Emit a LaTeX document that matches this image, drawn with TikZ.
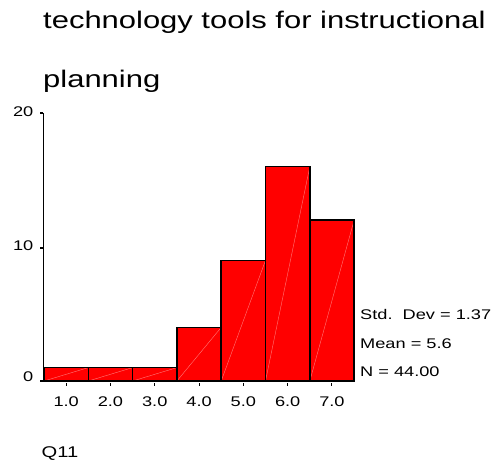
\documentclass[tikz,border=0pt]{standalone}
\usepackage{fontspec}
\setmainfont{Liberation Sans}
\begin{document}
\begin{tikzpicture}[x=1pt,y=-1pt,
  bar/.style={draw=black,line width=1.6pt},
  barfill/.style={fill=red},
  diag/.style={draw={rgb,255:red,255;green,120;blue,120},line width=0.4pt},
  axisline/.style={draw=black,line width=1.3pt},
  small/.style={inner sep=0pt,font=\fontsize{14}{14}\selectfont},
  big/.style={inner sep=0pt,font=\fontsize{24}{24}\selectfont}]
\useasboundingbox (0,0) rectangle (492,462);
% title
\node[big,anchor=base west] (t1) at (43,29) {\scalebox{1.29}[1]{technology tools for instructional}};
\node[big,anchor=base west] (t2) at (43,88) {\scalebox{1.29}[1]{planning}};
% bars
\def\u{13.4}
\foreach \i/\h in {0/1,1/1,2/1,3/4,4/9,5/16,6/12}{
  \pgfmathsetmacro\xa{44+44.3*\i}
  \pgfmathsetmacro\xb{44+44.3*(\i+1)}
  \pgfmathsetmacro\yt{381-\h*\u}
  \fill[barfill] (\xa,381) rectangle (\xb,\yt);
  \draw[diag] (\xa,381) -- (\xb,\yt);
  \draw[bar] (\xa,381) rectangle (\xb,\yt);
  \pgfmathsetmacro\xc{44+44.3*(\i+0.5)}
  \draw[black,line width=1pt] (\xc,383) -- (\xc,386);
  \pgfmathtruncatemacro\lab{\i+1}
  \node[small,anchor=base] (xl\i) at (\xc,406) {\scalebox{1.3}[1]{\lab.0}};
}
% axes
\coordinate (ytop) at (43.3,113);
\coordinate (ybot) at (43.3,381);
\coordinate (xend) at (354,381);
\draw[axisline] (ytop) -- (ybot);
\draw[axisline] (40.3,381) -- (xend);
\draw[axisline] (40.3,113) -- (ytop);
\draw[axisline] (40.3,248) -- (43.3,248);
\node[small,anchor=east] (y20) at (33.5,112) {\scalebox{1.3}[1]{20}};
\node[small,anchor=east] (y10) at (33.5,246) {\scalebox{1.3}[1]{10}};
\node[small,anchor=east] (y0) at (33.5,377) {\scalebox{1.3}[1]{0}};
% stats
\node[small,anchor=base west] (sd) at (360,319) {\scalebox{1.3}[1]{Std.\ \ Dev = 1.37}};
\node[small,anchor=base west] (mn) at (360,348.5) {\scalebox{1.3}[1]{Mean = 5.6}};
\node[small,anchor=base west] (nn) at (360,376) {\scalebox{1.3}[1]{N = 44.00}};
% variable name
\node[inner sep=0pt,font=\fontsize{15.5}{15.5}\selectfont,anchor=base west] (q) at (41.5,457) {\scalebox{1.3}[1]{Q11}};
\end{tikzpicture}
\end{document}
